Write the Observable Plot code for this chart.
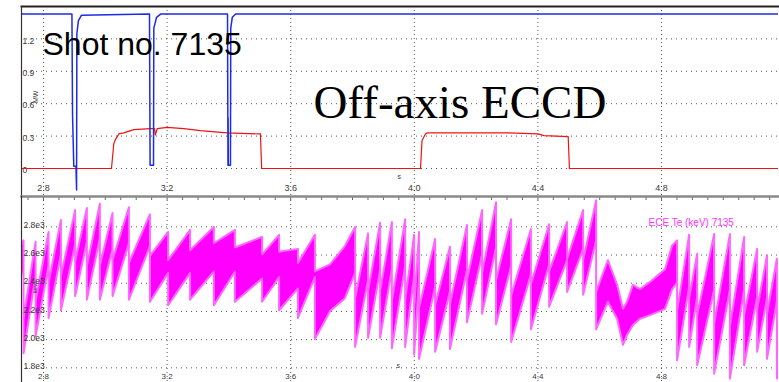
<!DOCTYPE html>
<html>
<head>
<meta charset="utf-8">
<script src="https://cdn.jsdelivr.net/npm/d3@7"></script>
<script src="https://cdn.jsdelivr.net/npm/@observablehq/plot@0.6"></script>
<style>
  html, body { margin: 0; padding: 0; background: #fff; }
  #chart { position: relative; width: 779px; height: 382px; overflow: hidden; background: #fff; }
  #chart svg { position: absolute; left: 0; overflow: visible; }
</style>
</head>
<body>
<div id="chart"></div>
<script>
// ---------- axes / ticks ----------
const timeDomain = [2.7288, 5.1786];
const timeTicks = [2.8, 3.2, 3.6, 4.0, 4.4, 4.8];
const timeTickLabels = ["2.8", "3.2", "3.6", "4.0", "4.4", "4.8"];
const minorTimeTicks = d3.range(2.75, 5.18, 0.05);

const powerDomain = [-0.25, 1.5];
const powerTicks = [0, 0.3, 0.6, 0.9, 1.2];
const powerTickLabels = ["0", "0.3", "0.6", "0.9", "1.2"];

const teDomain = [1696, 3015];
const teTicks = [1800, 2000, 2200, 2400, 2600, 2800];
const teTickLabels = ["1.8e3", "2.0e3", "2.2e3", "2.4e3", "2.6e3", "2.8e3"];

// ---------- top panel: blue trace ----------
const blueT = [2.7288, 2.892, 2.894, 2.898, 2.905, 2.907, 2.908, 2.913, 2.923,
  3.143, 3.145, 3.156, 3.157, 3.166, 3.179,
  3.3955, 3.397, 3.3975, 3.398, 3.405, 3.406, 3.411, 3.422, 5.1786];
const blueV = [1.43, 1.43, 0.49, 0.02, 0.02, -0.2, 1.25, 1.37, 1.42,
  1.43, 0.03, 0.03, 1.30, 1.40, 1.43,
  1.43, 0.03, 0.47, 0.03, 0.03, 1.30, 1.40, 1.43, 1.43];

// ---------- top panel: ECCD power (red) ----------
const redT = [2.7288, 3.020, 3.0275, 3.033, 3.044, 3.060, 3.092, 3.146, 3.159, 3.162, 3.168,
  3.200, 3.254, 3.308, 3.394, 3.502, 3.506, 4.020, 4.025, 4.036, 4.042, 4.150, 4.300,
  4.400, 4.420, 4.498, 4.502, 5.1786];
const redV = [0, 0, 0.23, 0.27, 0.32, 0.33, 0.36, 0.37, 0.37, 0.31, 0.37,
  0.38, 0.37, 0.35, 0.33, 0.32, 0, 0, 0.26, 0.32, 0.33, 0.33, 0.33,
  0.32, 0.305, 0.295, 0, 0];

// ---------- bottom panel: ECE Te sawtooth (band envelope at each crash) ----------
const eceT =        [2.7288, 2.737, 2.776, 2.818, 2.858, 2.904, 2.942, 2.984, 3.025, 3.078, 3.146,
  3.205, 3.276, 3.353, 3.421, 3.509, 3.564, 3.625, 3.680, 3.729, 3.777,
  3.810, 3.852, 3.891, 3.929, 3.972, 4.001, 4.017, 4.069, 4.117, 4.172, 4.221, 4.266, 4.315,
  4.379, 4.438, 4.496, 4.548, 4.590, 4.628, 4.658, 4.677, 4.690, 4.709, 4.732, 4.764, 4.813, 4.836,
  4.852, 4.891, 4.917, 4.972, 5.023, 5.069, 5.111, 5.143, 5.175, 5.1786];
const ecePeak =     [2670, 2700, 2690, 2760, 2845, 2915, 2930, 2960, 2895, 2935, 2885,
  2760, 2775, 2795, 2775, 2725, 2740, 2640, 2740, 2530, 2660,
  2795, 2750, 2825, 2830, 2850, 2740, 2760, 2710, 2655, 2810, 2915, 2970, 2850,
  2780, 2815, 2830, 2915, 2985, 2560, 2385, 2215, 2265, 2385, 2355, 2405, 2495, 2665,
  2700, 2740, 2605, 2745, 2745, 2725, 2640, 2595, 2570, 2100];
const ecePreLow =   [2480, 2460, 2450, 2520, 2600, 2670, 2690, 2715, 2640, 2680, 2660,
  2470, 2470, 2480, 2480, 2430, 2440, 2360, 2440, 2200, 2290,
  2470, 2420, 2490, 2495, 2520, 2450, 2420, 2370, 2340, 2490, 2600, 2650, 2520,
  2460, 2530, 2560, 2640, 2700, 2265, 2145, 1960, 2030, 2100, 2145, 2170, 2215, 2355,
  2400, 2370, 2300, 2350, 2350, 2350, 2300, 2290, 2270, 1800];
const eceTrough =   [2480, 1900, 2020, 2150, 2205, 2305, 2280, 2280, 2305, 2280, 2265,
  2240, 2280, 2240, 2265, 2265, 2205, 2150, 2000, 2200, 2290,
  1945, 2010, 2010, 1935, 1945, 1890, 1860, 1910, 1930, 2120, 2180, 2105, 1980,
  2070, 2230, 2335, 2315, 2070, 2265, 2145, 1960, 2030, 2100, 2145, 2170, 2215, 2355,
  1850, 1945, 1815, 1755, 1720, 1815, 1910, 1860, 1720, 1800];
const ecePostHigh = [2670, 2150, 2270, 2400, 2450, 2550, 2520, 2520, 2560, 2540, 2590,
  2560, 2630, 2680, 2650, 2600, 2620, 2540, 2480, 2530, 2660,
  2290, 2340, 2340, 2270, 2280, 2220, 2220, 2240, 2250, 2420, 2470, 2420, 2310,
  2390, 2480, 2570, 2560, 2335, 2560, 2385, 2215, 2265, 2385, 2355, 2405, 2495, 2665,
  2200, 2290, 2170, 2110, 2090, 2170, 2210, 2180, 2080, 2100];

// ---------- build tables ----------
const blueRows = blueT.map((t, i) => ({t, v: blueV[i]}));
const redRows = redT.map((t, i) => ({t, v: redV[i]}));
const eceRows = [];
eceT.forEach((t, i) => {
  eceRows.push({t, lo: ecePreLow[i], hi: ecePeak[i]});
  eceRows.push({t, lo: eceTrough[i], hi: ecePostHigh[i]});
});

const baseStyle = {
  fontFamily: "'Liberation Sans', Arial, sans-serif",
  fontSize: "9px",
  color: "#333",
  background: "transparent",
  overflow: "visible"
};

const labelFill = "#3a3a3a";

// ---------- top panel ----------
const topPanel = Plot.plot({
  width: 779, height: 195,
  marginLeft: 21, marginRight: 1, marginTop: 6, marginBottom: 0,
  x: {domain: timeDomain, axis: null},
  y: {domain: powerDomain, axis: null},
  style: baseStyle,
  marks: [
    Plot.ruleY(powerTicks, {y: d => d, stroke: "#555", strokeDasharray: "1,4"}),
    Plot.ruleX(timeTicks, {x: d => d, stroke: "#555", strokeDasharray: "1,3"}),
    Plot.text(powerTicks, {y: d => d, text: (d, i) => powerTickLabels[i], frameAnchor: "left",
      textAnchor: "start", dx: 1, dy: 2, fill: labelFill, fontSize: 8.5}),
    Plot.text(["MW"], {frameAnchor: "left", dx: 14, dy: 2, rotate: -90, fill: labelFill, fontSize: 7}),
    Plot.text(timeTicks, {x: d => d, text: (d, i) => timeTickLabels[i], frameAnchor: "bottom",
      dy: -5, fill: labelFill, fontSize: 9}),
    Plot.text(["s"], {x: timeTicks[3], frameAnchor: "bottom", dx: -15, dy: -17, fill: labelFill, fontSize: 7}),
    Plot.line(redRows, {x: "t", y: "v", stroke: "#ee1414", strokeWidth: 1.2, clip: true}),
    Plot.line(blueRows, {x: "t", y: "v", stroke: "#1e2be6", strokeWidth: 1.5, clip: true}),
    Plot.frame({anchor: "top", stroke: "#222", strokeWidth: 2}),
    Plot.frame({anchor: "left", stroke: "#333", strokeWidth: 1.2}),
    Plot.text(["Shot no. 7135"], {frameAnchor: "top-left", dx: 21, dy: 26, lineAnchor: "top",
      textAnchor: "start", fontSize: 32, fill: "#000",
      fontFamily: "'Liberation Sans', Arial, sans-serif"}),
    Plot.text(["Off-axis ECCD"], {frameAnchor: "top-left", dx: 292, dy: 78, lineAnchor: "top",
      textAnchor: "start", fontSize: 47, fill: "#000",
      fontFamily: "'Liberation Serif', 'Times New Roman', serif"})
  ]
});
topPanel.style.top = "0px";

// ---------- bottom panel ----------
const bottomPanel = Plot.plot({
  width: 779, height: 187,
  marginLeft: 21, marginRight: 1, marginTop: 1, marginBottom: 0,
  x: {domain: timeDomain, axis: null},
  y: {domain: teDomain, axis: null},
  style: baseStyle,
  marks: [
    Plot.ruleY(teTicks, {y: d => d, stroke: "#555", strokeDasharray: "1,4"}),
    Plot.ruleX(timeTicks, {x: d => d, stroke: "#555", strokeDasharray: "1,3"}),
    Plot.areaY(eceRows, {x: "t", y1: "lo", y2: "hi", fill: "#ff00ff", stroke: "#ff66ff",
      strokeWidth: 2, strokeLinejoin: "round", curve: "linear", clip: true}),
    Plot.text(teTicks, {y: d => d, text: (d, i) => teTickLabels[i], frameAnchor: "left",
      textAnchor: "start", dx: 2, dy: -1.5, fill: labelFill, fontSize: 8.5}),
    Plot.text(["keV"], {frameAnchor: "left", dx: 14, dy: 4, rotate: -90, fill: labelFill, fontSize: 6}),
    Plot.text(timeTicks, {x: d => d, text: (d, i) => timeTickLabels[i], frameAnchor: "bottom",
      dy: -4, fill: labelFill, fontSize: 8}),
    Plot.text(["s"], {x: timeTicks[3], frameAnchor: "bottom", dx: -16, dy: -15, fill: labelFill, fontSize: 7}),
    Plot.ruleX(minorTimeTicks, {x: d => d, insetBottom: 182, stroke: "#666"}),
    Plot.frame({anchor: "top", stroke: "#8a8a8a", strokeWidth: 2.5}),
    Plot.frame({anchor: "left", stroke: "#333", strokeWidth: 1.2}),
    Plot.text(["ECE Te (keV) 7135"], {frameAnchor: "top-left", dx: 627, dy: 22, textAnchor: "start",
      fill: "#ff33ff", fontSize: 10})
  ]
});
bottomPanel.style.top = "195px";

const chart = document.getElementById("chart");
chart.appendChild(topPanel);
chart.appendChild(bottomPanel);
</script>
</body>
</html>
